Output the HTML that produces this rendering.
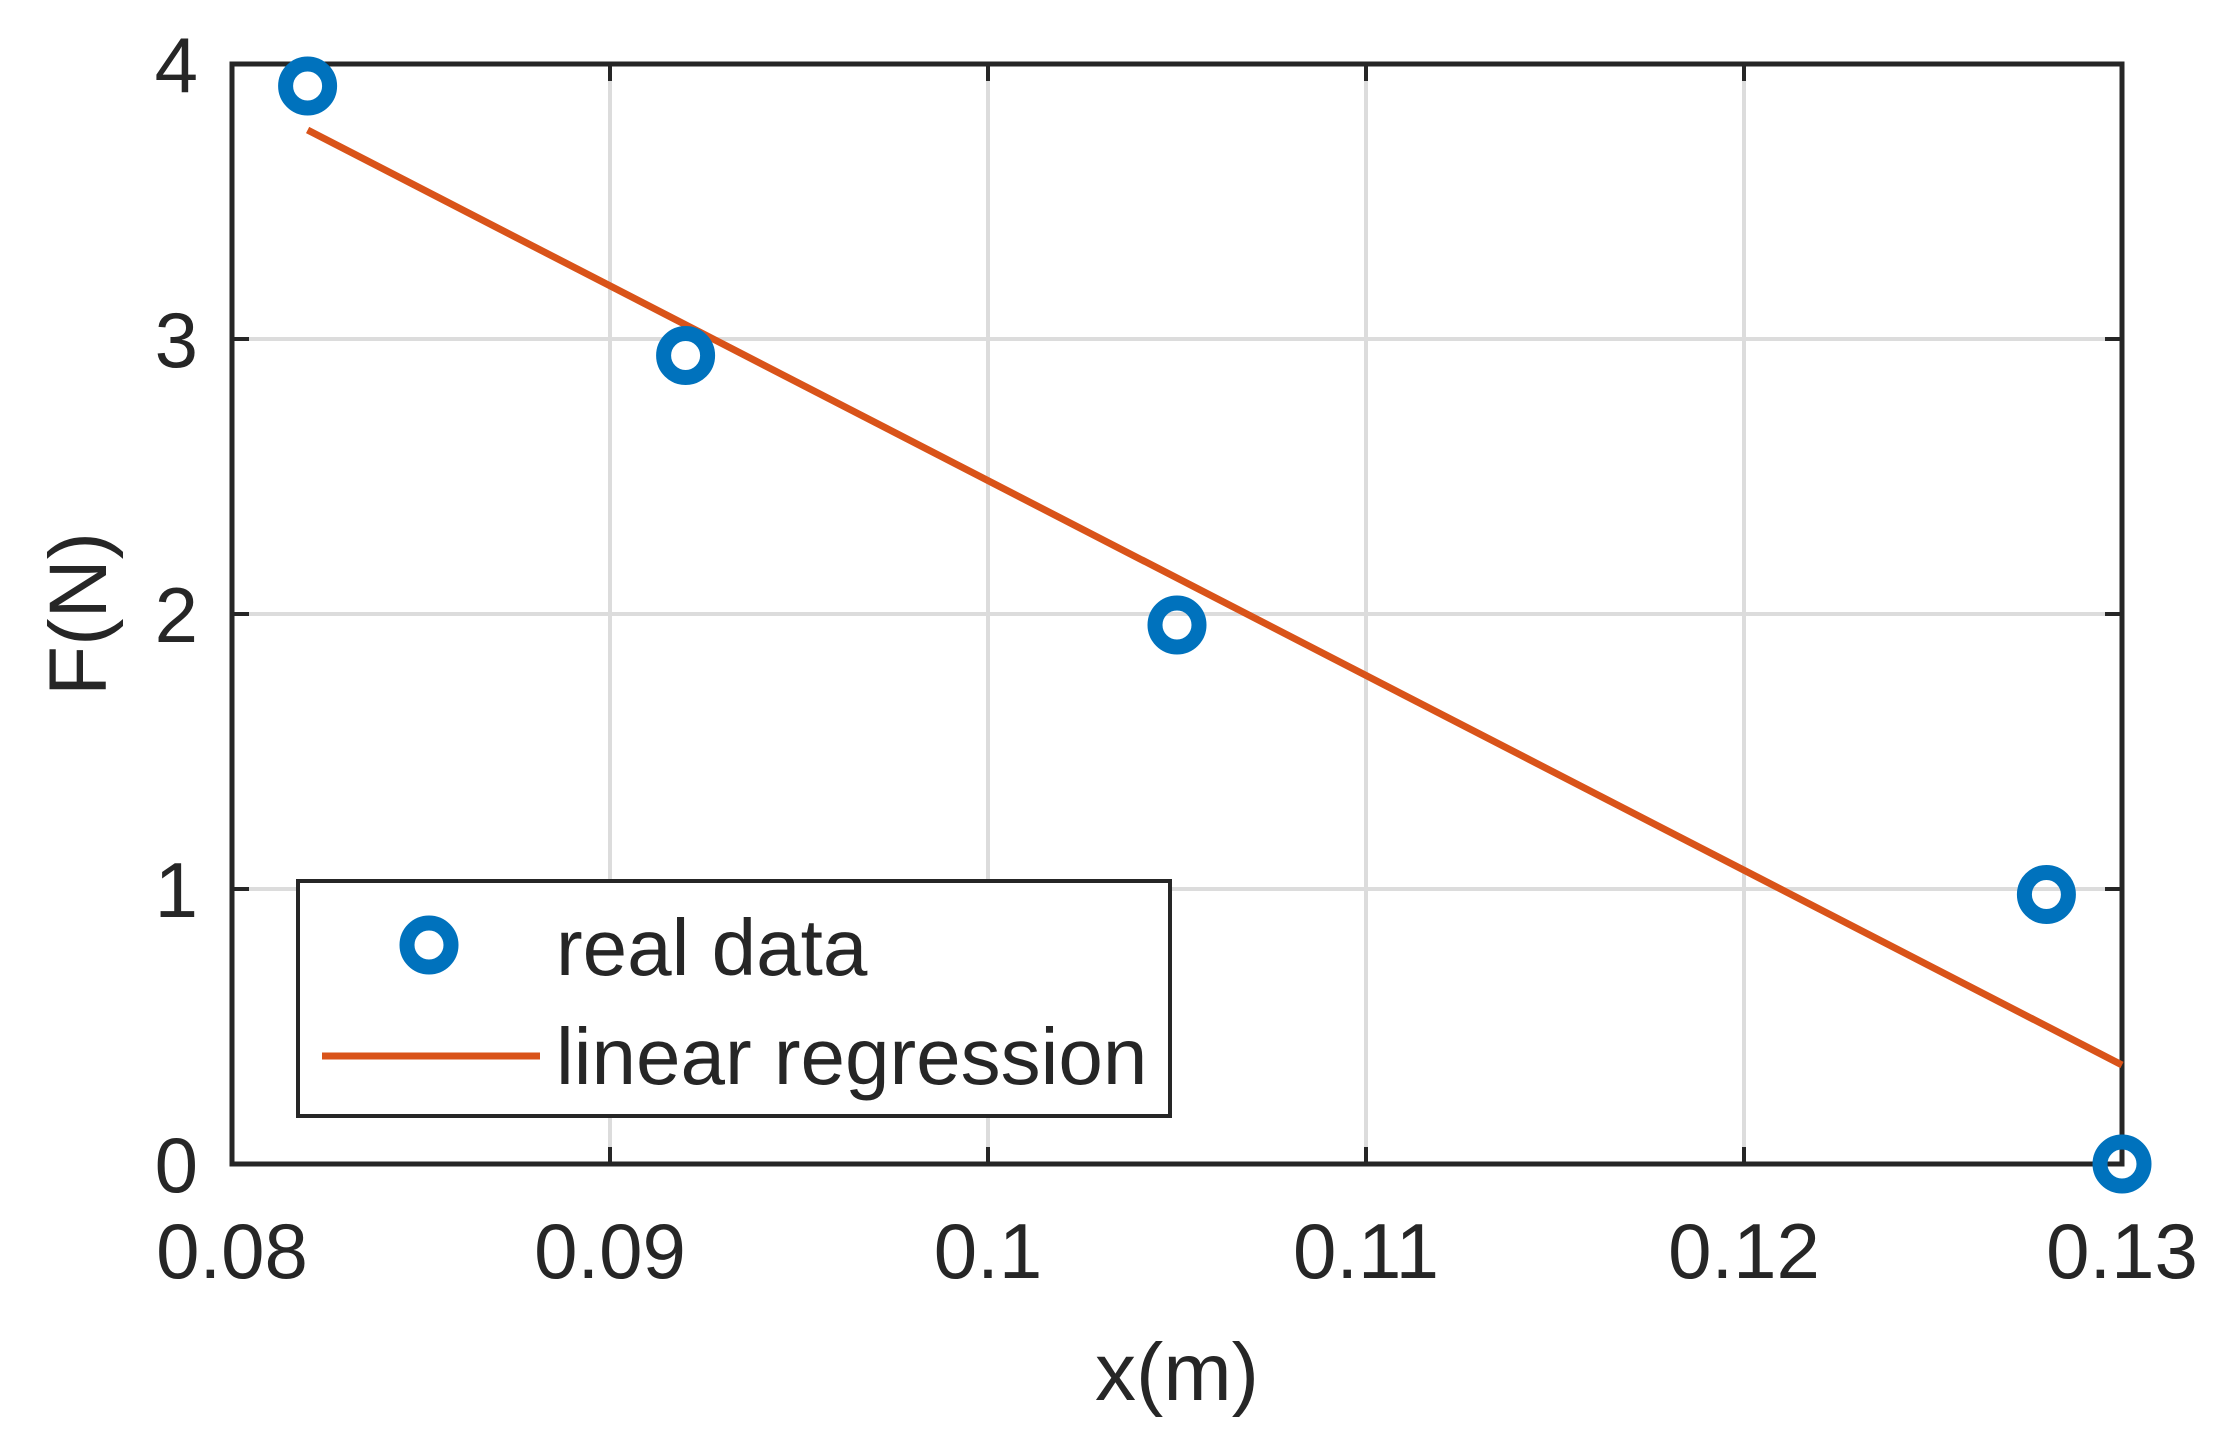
<!DOCTYPE html>
<html><head><meta charset="utf-8"><style>body{margin:0;background:#fff}svg{display:block}text{font-family:"Liberation Sans",sans-serif;fill:#262626}</style></head>
<body>
<svg id="c" width="2217" height="1433" viewBox="0 0 2217 1433"></svg>
<script>
const xTicks=[0.08,0.09,0.1,0.11,0.12,0.13];
const xTickLabels=["0.08","0.09","0.1","0.11","0.12","0.13"];
const yTicks=[0,1,2,3,4];
const yTickLabels=["0","1","2","3","4"];
const dataX=[0.082,0.092,0.105,0.128,0.13];
const dataY=[3.92,2.94,1.96,0.98,0];
const fitX=[0.082,0.13];
const fitY=[3.76,0.36];
const L=232,R=2122,T=64,B=1164;
const sx=v=>L+(v-0.08)/0.05*(R-L);
const sy=v=>B-v/4*(B-T);
const svg=document.getElementById('c');
const NS='http://www.w3.org/2000/svg';
function mk(t,a,p){const e=document.createElementNS(NS,t);for(const k in a)e.setAttribute(k,a[k]);(p||svg).appendChild(e);return e;}
mk('rect',{x:0,y:0,width:2217,height:1433,fill:'#fff'});
xTicks.forEach((v,i)=>{
 const g=mk('line',{x1:sx(v),x2:sx(v),y1:T,y2:B,stroke:'#dcdcdc','stroke-width':4});
 
 mk('line',{x1:sx(v),x2:sx(v),y1:B,y2:B-17,stroke:'#262626','stroke-width':4});
 mk('line',{x1:sx(v),x2:sx(v),y1:T,y2:T+17,stroke:'#262626','stroke-width':4});
 const t=mk('text',{x:sx(v),y:1278,'font-size':78,'text-anchor':'middle'});t.textContent=xTickLabels[i];
 
});
yTicks.forEach((v,i)=>{
 const g=mk('line',{x1:L,x2:R,y1:sy(v),y2:sy(v),stroke:'#dcdcdc','stroke-width':4});
 
 mk('line',{x1:L,x2:L+17,y1:sy(v),y2:sy(v),stroke:'#262626','stroke-width':4});
 mk('line',{x1:R,x2:R-17,y1:sy(v),y2:sy(v),stroke:'#262626','stroke-width':4});
 const t=mk('text',{x:198,y:sy(v)+28,'font-size':78,'text-anchor':'end'});t.textContent=yTickLabels[i];
 
});
const ax=mk('rect',{x:L,y:T,width:R-L,height:B-T,fill:'none',stroke:'#262626','stroke-width':5});

const fl=mk('line',{x1:sx(fitX[0]),y1:sy(fitY[0]),x2:sx(fitX[1]),y2:sy(fitY[1]),stroke:'#d95319','stroke-width':7});

dataX.forEach((v,i)=>{
 const c=mk('circle',{cx:sx(v),cy:sy(dataY[i]),r:22,fill:'none',stroke:'#0072bd','stroke-width':15});
 
});
const xl=mk('text',{x:1177,y:1400,'font-size':82,'text-anchor':'middle'});xl.textContent='x(m)';

const yl=mk('text',{x:0,y:0,'font-size':82,'text-anchor':'middle',transform:'translate(106,614) rotate(-90)'});yl.textContent='F(N)';

const lg=mk('g',{});

mk('rect',{x:298,y:881,width:872,height:235,fill:'#fff',stroke:'#262626','stroke-width':4},lg);
mk('circle',{cx:429,cy:945,r:22,fill:'none',stroke:'#0072bd','stroke-width':15},lg);
const t1=mk('text',{x:556,y:975,'font-size':80},lg);t1.textContent='real data';

mk('line',{x1:322,x2:540,y1:1056,y2:1056,stroke:'#d95319','stroke-width':7},lg);
const t2=mk('text',{x:556,y:1084,'font-size':80},lg);t2.textContent='linear regression';

</script>
</body></html>
